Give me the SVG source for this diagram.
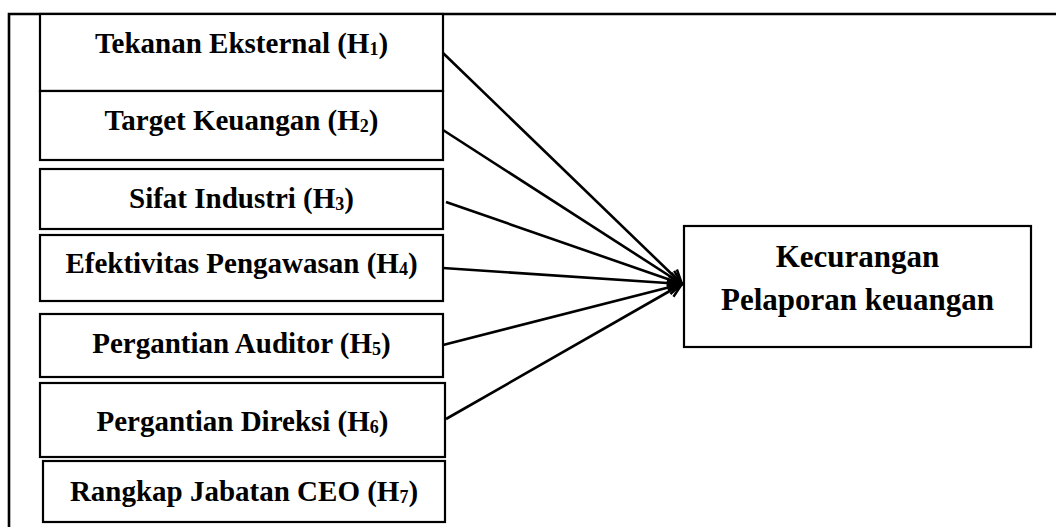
<svg xmlns="http://www.w3.org/2000/svg" width="1056" height="527" viewBox="0 0 1056 527">
<style>
.box{fill:#fff;stroke:#000;stroke-width:2.2}
.lbl{font-family:"Liberation Serif","Times New Roman",serif;font-weight:bold;font-size:29px;fill:#000;text-anchor:middle}
.big{font-size:31px}
.sub{font-size:18px}
.conn line{stroke:#000;stroke-width:2.6}
</style>
<defs>
<marker id="ah" viewBox="0 0 12 12" refX="11" refY="6" markerWidth="15" markerHeight="15" markerUnits="userSpaceOnUse" orient="auto" overflow="visible">
<path d="M0,0.5 L11,6 L0,11.5" fill="none" stroke="#000" stroke-width="2"/>
</marker>
</defs>
<rect width="1056" height="527" fill="#fff"/>
<g id="frame">
<path d="M9,527 L9,14 L1056,14" fill="none" stroke="#000" stroke-width="2.6"/>
</g>
<g id="h1"><rect class="box" x="40" y="14" width="403" height="77"/><text class="lbl" x="241.5" y="53">Tekanan Eksternal (H<tspan class="sub" dy="2">1</tspan><tspan dy="-2">)</tspan></text></g>
<g id="h2"><rect class="box" x="40" y="91" width="403" height="69"/><text class="lbl" x="241.5" y="130">Target Keuangan (H<tspan class="sub" dy="2">2</tspan><tspan dy="-2">)</tspan></text></g>
<g id="h3"><rect class="box" x="40" y="169" width="403" height="60"/><text class="lbl" x="241.5" y="208">Sifat Industri (H<tspan class="sub" dy="2">3</tspan><tspan dy="-2">)</tspan></text></g>
<g id="h4"><rect class="box" x="40" y="235" width="403" height="66"/><text class="lbl" x="241.5" y="273">Efektivitas Pengawasan (H<tspan class="sub" dy="2">4</tspan><tspan dy="-2">)</tspan></text></g>
<g id="h5"><rect class="box" x="40" y="314" width="403" height="63"/><text class="lbl" x="241.5" y="353">Pergantian Auditor (H<tspan class="sub" dy="2">5</tspan><tspan dy="-2">)</tspan></text></g>
<g id="h6"><rect class="box" x="40" y="383" width="405" height="74"/><text class="lbl" x="242.5" y="431">Pergantian Direksi (H<tspan class="sub" dy="2">6</tspan><tspan dy="-2">)</tspan></text></g>
<g id="h7"><rect class="box" x="43" y="461" width="402" height="61"/><text class="lbl" x="244" y="501">Rangkap Jabatan CEO (H<tspan class="sub" dy="2">7</tspan><tspan dy="-2">)</tspan></text></g>
<g id="target"><rect class="box" x="684" y="226" width="347" height="121"/><text class="lbl big" x="857.5" y="267">Kecurangan</text><text class="lbl big" x="857.5" y="310">Pelaporan keuangan</text></g>
<g class="conn" id="connectors">
<line x1="443" y1="53" x2="682" y2="284" marker-end="url(#ah)"/>
<line x1="443" y1="130" x2="682" y2="284" marker-end="url(#ah)"/>
<line x1="446" y1="202" x2="682" y2="284" marker-end="url(#ah)"/>
<line x1="443" y1="268" x2="682" y2="284" marker-end="url(#ah)"/>
<line x1="443" y1="345" x2="682" y2="284" marker-end="url(#ah)"/>
<line x1="446" y1="419" x2="682" y2="284" marker-end="url(#ah)"/>
</g>
</svg>
